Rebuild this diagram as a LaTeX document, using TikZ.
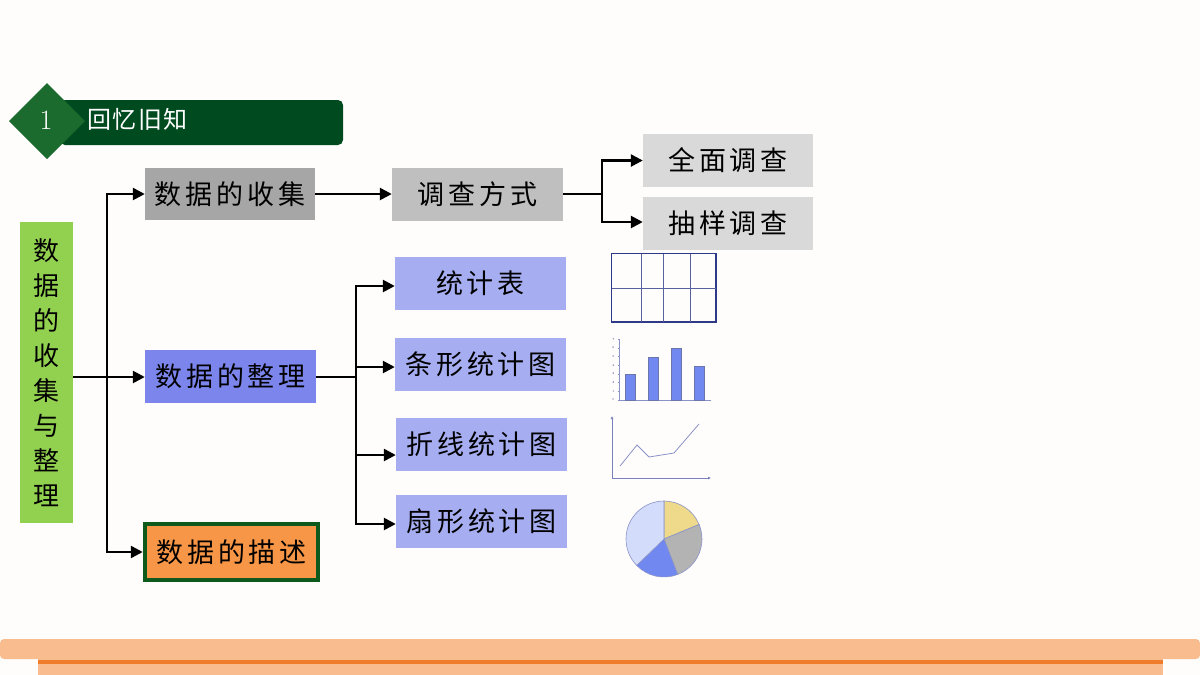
\documentclass[tikz,border=0pt]{standalone}
\usepackage{fontspec}
\newfontfamily\cjk[LetterSpace=14]{Noto Sans CJK SC}
\newfontfamily\cjkt[LetterSpace=6]{Noto Sans CJK SC}
\usetikzlibrary{arrows.meta,calc}
\definecolor{bg}{HTML}{FFFDFC}
\definecolor{bannerdark}{HTML}{004A1F}
\definecolor{bannerdia}{HTML}{1B6B2F}
\definecolor{leafgreen}{HTML}{92D050}
\definecolor{gray1}{HTML}{A6A6A6}
\definecolor{gray2}{HTML}{BFBFBF}
\definecolor{gray3}{HTML}{D9D9D9}
\definecolor{blue1}{HTML}{7B85EC}
\definecolor{blue2}{HTML}{A6AEF1}
\definecolor{orangebox}{HTML}{F79646}
\definecolor{greenborder}{HTML}{0E5A1C}
\definecolor{navy}{HTML}{2E3A87}
\definecolor{barblue}{HTML}{7088F0}
\definecolor{axisgray}{HTML}{8A93C8}
\definecolor{pieyellow}{HTML}{EEDA8A}
\definecolor{piegray}{HTML}{B3B3B3}
\definecolor{pielight}{HTML}{D3DDFB}
\definecolor{bandlight}{HTML}{F9BC8F}
\definecolor{banddark}{HTML}{F07D2E}
\tikzset{
  box/.style={minimum width=171pt, minimum height=53pt, inner sep=0pt, text=black,
    font=\cjk\fontsize{27}{27}\selectfont},
  conn/.style={line width=2.5pt, black},
  arr/.style={conn, -{Triangle[length=12pt,width=12pt]}},
}
\begin{document}
\begin{tikzpicture}[x=1pt,y=-1pt]
\useasboundingbox (0,0) rectangle (1200,675);
\fill[bg] (0,0) rectangle (1200,675);

% banner
\fill[bannerdark, rounded corners=5pt] (60,100) rectangle (343,145);
\fill[bannerdia] (9,121) -- (47,83) -- (85,121) -- (47,159) -- cycle;
\node[text=white, font=\fontsize{28}{28}\selectfont] (num) at (46,120) {1};
\node[text=white, anchor=west, font=\cjkt\fontsize{24}{24}\selectfont] (title) at (84,119) {回忆旧知};

% left box
\node[fill=leafgreen, minimum width=53pt, minimum height=301pt, inner sep=0pt,
  align=center, font=\cjk\fontsize{26}{35}\selectfont] (root) at (46.5,372.5)
  {数\\据\\的\\收\\集\\与\\整\\理};

% level 1
\node[box, fill=gray1, minimum width=170pt, minimum height=52pt] (col) at (230,194) {数据的收集};
\node[box, fill=blue1, minimum width=171pt, minimum height=53pt] (org) at (230.5,376.5) {数据的整理};
\node[box, fill=orangebox, draw=greenborder, line width=4.5pt, minimum width=173pt, minimum height=56pt] (des) at (231.5,552) {数据的描述};

% level 2
\node[box, fill=gray2] (way) at (477.5,194) {调查方式};
\node[box, fill=gray3, minimum width=170pt] (full) at (728,160.5) {全面调查};
\node[box, fill=gray3, minimum width=170pt] (samp) at (728,223.5) {抽样调查};

\node[box, fill=blue2] (tab) at (480.5,283) {统计表};
\node[box, fill=blue2] (bar) at (480.5,364) {条形统计图};
\node[box, fill=blue2] (lin) at (481.5,444) {折线统计图};
\node[box, fill=blue2] (pie) at (481.5,521) {扇形统计图};

% connectors
\coordinate (j1) at (107,377);
\coordinate (j2) at (602,194);
\coordinate (j3) at (356,377);
\draw[conn] (root.east |- j1) -- (j1);
\draw[arr] (j1) -- (org.west |- j1);
\draw[arr] (j1) |- (col.west);
\draw[arr] (j1) |- (des.west);
\draw[arr] (col.east) -- (way.west);
\draw[conn] (way.east) -- (j2);
\draw[arr] (j2) |- (full.west);
\draw[arr] (j2) |- ([yshift=1.5pt]samp.west);
\draw[conn] (org.east |- j3) -- (j3);
\draw[arr] (j3) |- ([yshift=-3pt]tab.west);
\draw[arr] (j3) |- ([yshift=-3pt]bar.west);
\draw[arr] (j3) |- ([yshift=-11pt]lin.west);
\draw[arr] (j3) |- ([yshift=-3pt]pie.west);

% table icon
\draw[navy, line width=1.6pt] (611.5,253.5) rectangle (716,322);
\draw[navy!80, line width=1pt] (611.5,288) -- (716,288)
  (641,253.5) -- (641,322) (663,253.5) -- (663,322) (690,253.5) -- (690,322);

% bar chart icon
\draw[axisgray, line width=0.7pt] (619,339) -- (619,400) -- (711,400);
\foreach \i in {0,...,7} {
  \node[text=navy, font=\fontsize{3}{3}\selectfont, inner sep=0pt] at (613.5,{400-8.7*\i}) {\i};
  \draw[axisgray, line width=0.4pt] (617.5,{400-8.7*\i}) -- (619,{400-8.7*\i});
}
\foreach \xa/\yt in {625/374, 648/357, 671/348, 694/366} {
  \draw[fill=barblue, draw=navy!70, line width=0.5pt] (\xa,400) rectangle (\xa+10,\yt);
}

% line chart icon
\draw[axisgray!80!navy, line width=0.7pt, -{Latex[length=3pt,width=3pt]}] (612,478) -- (612,416);
\draw[axisgray!80!navy, line width=0.7pt, -{Latex[length=3pt,width=3pt]}] (612,478) -- (711,478);
\draw[axisgray, line width=0.8pt] (620,466) -- (637,445) -- (649,457) -- (674,453) -- (699,424);

% pie chart icon
\begin{scope}[shift={(664,539)}, y=1pt]
  \def\r{38}
  \filldraw[fill=pieyellow, draw=axisgray, line width=0.6pt] (0,0) -- (90:\r) arc[start angle=90, end angle=22.5, radius=\r] -- cycle;
  \filldraw[fill=piegray, draw=axisgray, line width=0.6pt] (0,0) -- (22.5:\r) arc[start angle=22.5, end angle=-69, radius=\r] -- cycle;
  \filldraw[fill=barblue, draw=axisgray, line width=0.6pt] (0,0) -- (-69:\r) arc[start angle=-69, end angle=-136, radius=\r] -- cycle;
  \filldraw[fill=pielight, draw=axisgray, line width=0.6pt] (0,0) -- (-136:\r) arc[start angle=-136, end angle=-270, radius=\r] -- cycle;
\end{scope}

% bottom band
\fill[bandlight, rounded corners=4pt] (0,639) rectangle (1200,659);
\fill[bandlight] (38,659) rectangle (1163,675);
\fill[banddark] (38,659.5) rectangle (1163,664);
\end{tikzpicture}
\end{document}
